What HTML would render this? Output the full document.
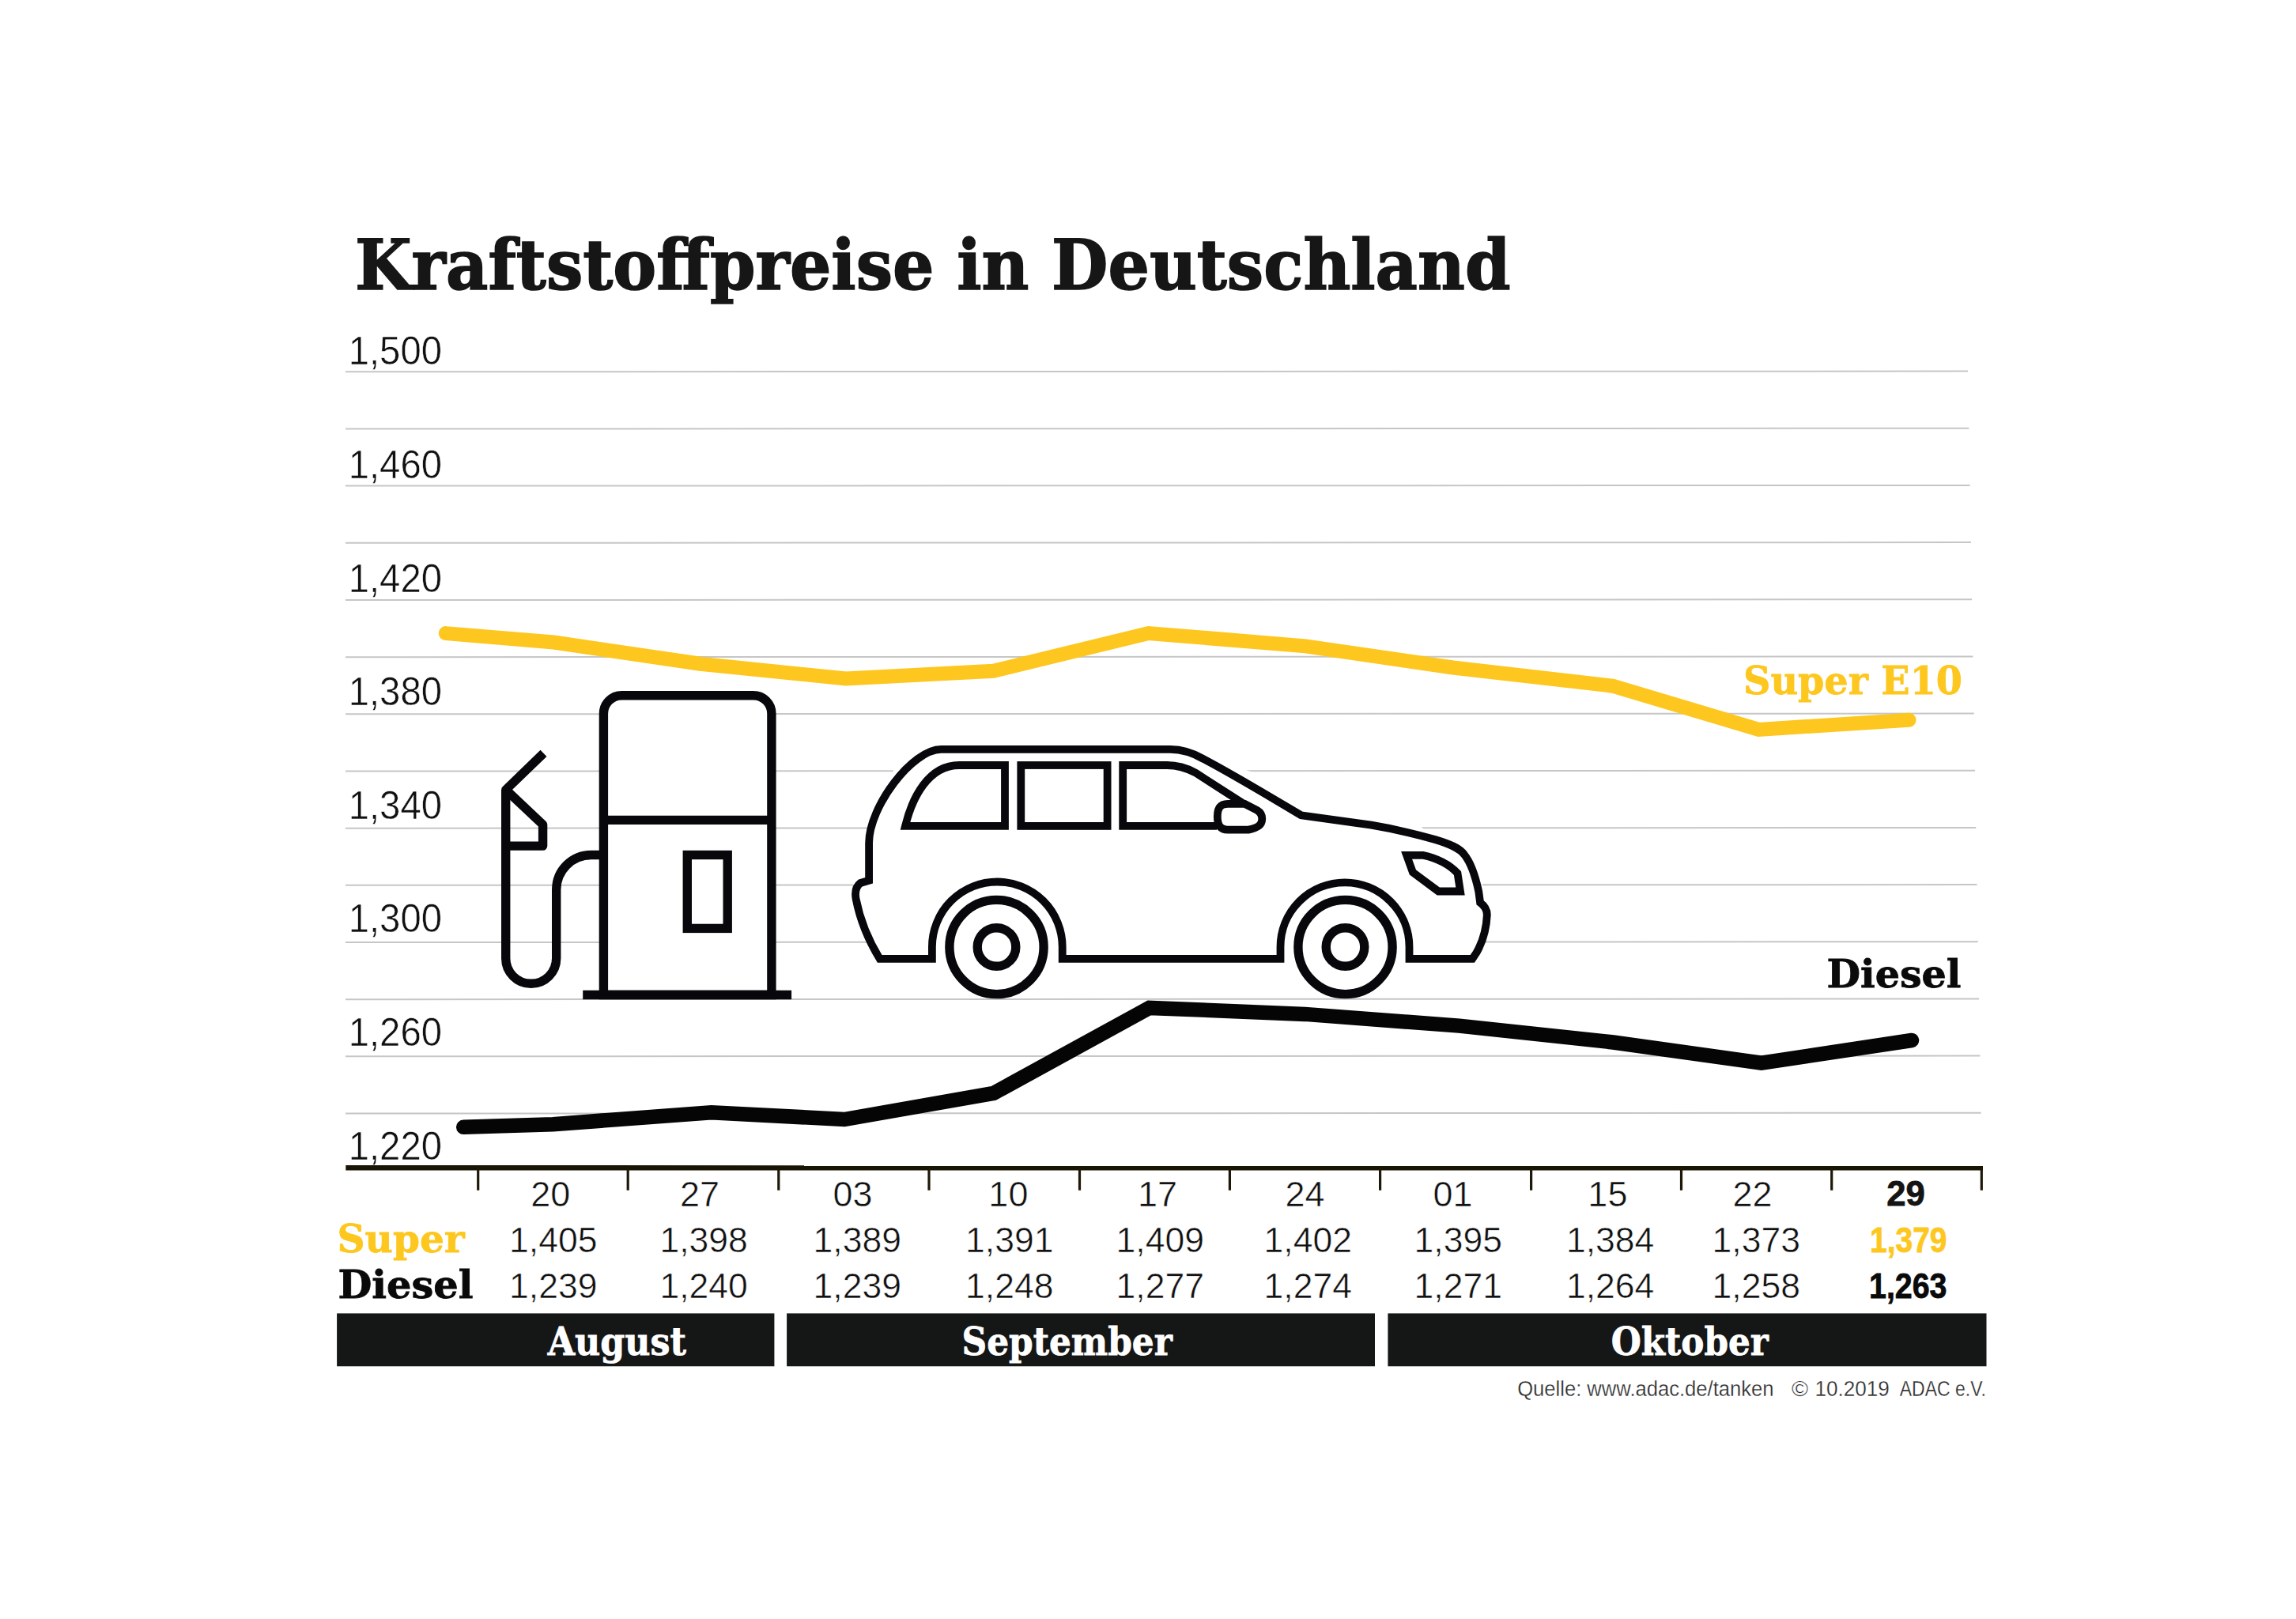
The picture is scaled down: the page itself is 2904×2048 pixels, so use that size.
<!DOCTYPE html>
<html lang="de"><head><meta charset="utf-8"><title>Kraftstoffpreise in Deutschland</title>
<style>
html,body{margin:0;padding:0;background:#fff}
svg{display:block}
.slab{font-family:"DejaVu Serif","Liberation Serif",serif;font-weight:bold;stroke-linejoin:miter}
.slabc{font-family:"DejaVu Serif Condensed","DejaVu Serif","Liberation Serif",serif;font-weight:bold}
.lt{font-family:"Liberation Sans",sans-serif;fill:#111;stroke:#fff;stroke-width:0.55px}
.bd{font-family:"Liberation Sans",sans-serif;font-weight:bold;stroke-width:0.8px}
.grid line{stroke:#c6c6c6;stroke-width:2}
.ico{fill:#fff;stroke:#08080c;stroke-linejoin:miter}
</style></head><body>
<svg width="2904" height="2048" viewBox="0 0 2904 2048">
<rect width="2904" height="2048" fill="#fff"/>

<text class="slab" x="449" y="366" font-size="87.5" fill="#161616" stroke="#161616" stroke-width="1.6" textLength="1461.5" lengthAdjust="spacingAndGlyphs">Kraftstoffpreise in Deutschland</text>
<g class="grid">
<line x1="437" y1="470.3" x2="2489.0" y2="469.6"/>
<line x1="437" y1="542.5" x2="2490.3" y2="541.8"/>
<line x1="437" y1="614.6" x2="2491.6" y2="613.9"/>
<line x1="437" y1="686.8" x2="2492.9" y2="686.1"/>
<line x1="437" y1="759.0" x2="2494.1" y2="758.3"/>
<line x1="437" y1="831.2" x2="2495.4" y2="830.5"/>
<line x1="437" y1="903.3" x2="2496.7" y2="902.6"/>
<line x1="437" y1="975.5" x2="2498.0" y2="974.8"/>
<line x1="437" y1="1047.7" x2="2499.2" y2="1047.0"/>
<line x1="437" y1="1119.8" x2="2500.5" y2="1119.1"/>
<line x1="437" y1="1192.0" x2="2501.8" y2="1191.3"/>
<line x1="437" y1="1264.2" x2="2503.1" y2="1263.5"/>
<line x1="437" y1="1336.3" x2="2504.4" y2="1335.6"/>
<line x1="437" y1="1408.5" x2="2505.6" y2="1407.8"/>
</g>
<text class="lt" x="440.7" y="461.4" font-size="50.8" textLength="118.3" lengthAdjust="spacingAndGlyphs">1,500</text>
<text class="lt" x="440.7" y="605.0" font-size="50.8" textLength="118.3" lengthAdjust="spacingAndGlyphs">1,460</text>
<text class="lt" x="440.7" y="748.6" font-size="50.8" textLength="118.3" lengthAdjust="spacingAndGlyphs">1,420</text>
<text class="lt" x="440.7" y="892.2" font-size="50.8" textLength="118.3" lengthAdjust="spacingAndGlyphs">1,380</text>
<text class="lt" x="440.7" y="1035.8" font-size="50.8" textLength="118.3" lengthAdjust="spacingAndGlyphs">1,340</text>
<text class="lt" x="440.7" y="1179.4" font-size="50.8" textLength="118.3" lengthAdjust="spacingAndGlyphs">1,300</text>
<text class="lt" x="440.7" y="1323.0" font-size="50.8" textLength="118.3" lengthAdjust="spacingAndGlyphs">1,260</text>
<text class="lt" x="440.7" y="1466.6" font-size="50.8" textLength="118.3" lengthAdjust="spacingAndGlyphs">1,220</text>
<polyline fill="none" stroke="#fdc71f" stroke-width="18" stroke-linecap="round" stroke-linejoin="miter" points="563.8,801.1 700.5,812.5 885.6,839.7 1069.7,858.5 1256.5,848.8 1452.6,801 1651.2,817.4 1837.6,844.5 2040.4,867.8 2224.4,922.9 2414.5,910.7"/>
<polyline fill="none" stroke="#050505" stroke-width="18.5" stroke-linecap="round" stroke-linejoin="miter" points="586.2,1425.8 699.4,1422.2 899.7,1407.2 1068,1416 1256.8,1382.9 1453.7,1274.9 1650.5,1282.9 1845.6,1297.6 2040.4,1318.5 2227.9,1344.6 2418,1316"/>
<text class="slab" x="2205" y="878.2" font-size="48.5" fill="#fdc71f" stroke="#fdc71f" stroke-width="0.8" textLength="277" lengthAdjust="spacingAndGlyphs">Super E10</text>
<text class="slab" x="2310.5" y="1248.8" font-size="48.5" fill="#0a0a0a" stroke="#0a0a0a" stroke-width="0.8" textLength="170" lengthAdjust="spacingAndGlyphs">Diesel</text>
<g class="ico" stroke-width="11.4">
<path d="M763.4 1258.5V903a23 23 0 0 1 23-23.2h166.5a23 23 0 0 1 23 23.2v355.5z"/>
<path d="M763.4 1037.4H975.9" fill="none"/>
<rect x="869.3" y="1081.5" width="50.9" height="92.9"/>
<path d="M737.2 1258.5H1001.1" fill="none"/>
<path d="M763.4 1081.5h-15.7a44 44 0 0 0 -44 44v86.8a32 32 0 0 1 -64 0V999" fill="none"/>
<path d="M687.5 952.8L639.8 999L686.6 1043.1V1070.1H639.8" fill="none" stroke-linejoin="round"/>
</g>
<polygon fill="#fff" points="1097.7,1046.9 1129.7,974.9 1145,945 1500,945 1576.6,974.2 1798.3,1046.4 1874.9,1118.9 1870,1200 1100,1200"/>
<g class="ico" stroke-width="9.8">
<path d="M1112.6 1212.8 C1100 1192 1088 1165 1082.6 1137.1 C1081 1128 1083 1121 1088.3 1117 L1099.1 1113.8 V1066.3 C1099.1 1020.7 1153.8 947.9 1190.3 947.9 H1480 C1495 948 1510 953 1522 960 C1545 972 1590 998 1645.6 1031.3 L1734.3 1043.7 C1760 1048 1790 1055 1815 1062 C1835 1068 1846 1073 1852 1081 C1861 1092 1866 1108 1870.3 1128 L1872.1 1141.7 C1878 1146 1881 1151 1880.8 1157.7 C1880 1175 1876 1188 1870.7 1198.9 C1868 1205 1865 1209 1862.3 1212.8 H1782.5 V1197.8 A81.5 81.5 0 0 0 1619.5 1197.8 V1212.8 H1343.7 V1197.8 A82.4 82.4 0 0 0 1178.9 1197.8 V1212.8 Z"/>
<path d="M1145 1044.9 C1153.7 1009.1 1174.3 968 1213.1 968 H1271 V1044.9 Z"/>
<rect x="1291.3" y="968" width="109.3" height="76.9"/>
<path d="M1539 1044.9 H1420.2 V968 H1476 C1490 968 1500 971 1512 977.5 L1588 1026.3" fill="none"/>
<path d="M1553 1016.9 H1574.3 L1590 1025 C1595 1028 1596.5 1032 1596.2 1036.6 C1596 1043 1592 1047 1578.9 1049.6 H1553 C1543 1049.6 1539.8 1043 1539.8 1033 C1539.8 1023 1543 1016.9 1553 1016.9 Z"/>
<path d="M1779.1 1081.8 H1799.4 Q1828 1088 1843.5 1104.7 L1847 1127.5 H1819.3 L1786.9 1103.5 Z"/>
</g>
<g class="ico" stroke-width="11.4">
<circle cx="1260.5" cy="1198" r="59.6"/><circle cx="1260.5" cy="1198" r="24.3"/>
<circle cx="1701.5" cy="1198" r="59.6"/><circle cx="1701.5" cy="1198" r="24.3"/>
</g>
<path d="M437.3 1477.3 L2508 1477.4" stroke="#1a1404" stroke-width="6.4" fill="none"/>
<line x1="604.7" y1="1478" x2="604.7" y2="1505.7" stroke="#1e1806" stroke-width="3.2"/>
<line x1="794.2" y1="1478" x2="794.2" y2="1505.7" stroke="#1e1806" stroke-width="3.2"/>
<line x1="984.8" y1="1478" x2="984.8" y2="1505.7" stroke="#1e1806" stroke-width="3.2"/>
<line x1="1175" y1="1478" x2="1175" y2="1505.7" stroke="#1e1806" stroke-width="3.2"/>
<line x1="1365.5" y1="1478" x2="1365.5" y2="1505.7" stroke="#1e1806" stroke-width="3.2"/>
<line x1="1555.4" y1="1478" x2="1555.4" y2="1505.7" stroke="#1e1806" stroke-width="3.2"/>
<line x1="1745.6" y1="1478" x2="1745.6" y2="1505.7" stroke="#1e1806" stroke-width="3.2"/>
<line x1="1936.6" y1="1478" x2="1936.6" y2="1505.7" stroke="#1e1806" stroke-width="3.2"/>
<line x1="2126.5" y1="1478" x2="2126.5" y2="1505.7" stroke="#1e1806" stroke-width="3.2"/>
<line x1="2316.7" y1="1478" x2="2316.7" y2="1505.7" stroke="#1e1806" stroke-width="3.2"/>
<line x1="2506.3" y1="1478" x2="2506.3" y2="1505.7" stroke="#1e1806" stroke-width="3.2"/>
<text class="lt" x="696.2" y="1525.7" font-size="45" text-anchor="middle">20</text>
<text class="lt" x="885" y="1525.7" font-size="45" text-anchor="middle">27</text>
<text class="lt" x="1078.6" y="1525.7" font-size="45" text-anchor="middle">03</text>
<text class="lt" x="1275.4" y="1525.7" font-size="45" text-anchor="middle">10</text>
<text class="lt" x="1464" y="1525.7" font-size="45" text-anchor="middle">17</text>
<text class="lt" x="1650.5" y="1525.7" font-size="45" text-anchor="middle">24</text>
<text class="lt" x="1837.5" y="1525.7" font-size="45" text-anchor="middle">01</text>
<text class="lt" x="2033.4" y="1525.7" font-size="45" text-anchor="middle">15</text>
<text class="lt" x="2216.6" y="1525.7" font-size="45" text-anchor="middle">22</text>
<text class="lt" x="699.6999999999999" y="1583.8" font-size="44.5" text-anchor="middle">1,405</text>
<text class="lt" x="890.0999999999999" y="1583.8" font-size="44.5" text-anchor="middle">1,398</text>
<text class="lt" x="1084.3" y="1583.8" font-size="44.5" text-anchor="middle">1,389</text>
<text class="lt" x="1276.7" y="1583.8" font-size="44.5" text-anchor="middle">1,391</text>
<text class="lt" x="1467.3" y="1583.8" font-size="44.5" text-anchor="middle">1,409</text>
<text class="lt" x="1654.2" y="1583.8" font-size="44.5" text-anchor="middle">1,402</text>
<text class="lt" x="1844.3" y="1583.8" font-size="44.5" text-anchor="middle">1,395</text>
<text class="lt" x="2036.6" y="1583.8" font-size="44.5" text-anchor="middle">1,384</text>
<text class="lt" x="2221.3" y="1583.8" font-size="44.5" text-anchor="middle">1,373</text>
<text class="lt" x="699.6999999999999" y="1642.3" font-size="44.5" text-anchor="middle">1,239</text>
<text class="lt" x="890.0999999999999" y="1642.3" font-size="44.5" text-anchor="middle">1,240</text>
<text class="lt" x="1084.3" y="1642.3" font-size="44.5" text-anchor="middle">1,239</text>
<text class="lt" x="1276.7" y="1642.3" font-size="44.5" text-anchor="middle">1,248</text>
<text class="lt" x="1467.3" y="1642.3" font-size="44.5" text-anchor="middle">1,277</text>
<text class="lt" x="1654.2" y="1642.3" font-size="44.5" text-anchor="middle">1,274</text>
<text class="lt" x="1844.3" y="1642.3" font-size="44.5" text-anchor="middle">1,271</text>
<text class="lt" x="2036.6" y="1642.3" font-size="44.5" text-anchor="middle">1,264</text>
<text class="lt" x="2221.3" y="1642.3" font-size="44.5" text-anchor="middle">1,258</text>
<text class="bd" x="2386.3" y="1525.3" font-size="45" fill="#141414" stroke="#141414" textLength="48.6" lengthAdjust="spacingAndGlyphs">29</text>
<text class="bd" x="2365" y="1583.8" font-size="44.5" fill="#fdc71f" stroke="#fdc71f" textLength="97.5" lengthAdjust="spacingAndGlyphs">1,379</text>
<text class="bd" x="2364" y="1642.3" font-size="44.5" fill="#0a0a0a" stroke="#0a0a0a" textLength="98.5" lengthAdjust="spacingAndGlyphs">1,263</text>
<text class="slab" x="426.5" y="1584" font-size="48" fill="#fdc71f" stroke="#fdc71f" stroke-width="0.8" textLength="161" lengthAdjust="spacingAndGlyphs">Super</text>
<text class="slab" x="427.5" y="1642.3" font-size="48" fill="#0a0a0a" stroke="#0a0a0a" stroke-width="0.8" textLength="171" lengthAdjust="spacingAndGlyphs">Diesel</text>
<rect x="426.1" y="1661.4" width="553.3" height="66.9" fill="#151717"/>
<text class="slab" x="692.7" y="1713.7" font-size="49" fill="#fff" stroke="#fff" stroke-width="0.8" textLength="175.2" lengthAdjust="spacingAndGlyphs">August</text>
<rect x="995.1" y="1661.4" width="743.9" height="66.9" fill="#151717"/>
<text class="slab" x="1216.5" y="1713.7" font-size="49" fill="#fff" stroke="#fff" stroke-width="0.8" textLength="266.3" lengthAdjust="spacingAndGlyphs">September</text>
<rect x="1755.4" y="1661.4" width="757.1" height="66.9" fill="#151717"/>
<text class="slab" x="2037.7" y="1713.7" font-size="49" fill="#fff" stroke="#fff" stroke-width="0.8" textLength="199.1" lengthAdjust="spacingAndGlyphs">Oktober</text>
<g font-size="27" font-family="Liberation Sans,sans-serif" fill="#2a2a2a" stroke="#fff" stroke-width="0.3">
<text x="1919.2" y="1765.9" textLength="324.3" lengthAdjust="spacingAndGlyphs">Quelle: www.adac.de/tanken</text>
<text x="2265.9" y="1765.9" textLength="21.1" lengthAdjust="spacingAndGlyphs">©</text>
<text x="2295.5" y="1765.9" textLength="94.4" lengthAdjust="spacingAndGlyphs">10.2019</text>
<text x="2402.8" y="1765.9" textLength="109.0" lengthAdjust="spacingAndGlyphs">ADAC e.V.</text>
</g>
</svg></body></html>
